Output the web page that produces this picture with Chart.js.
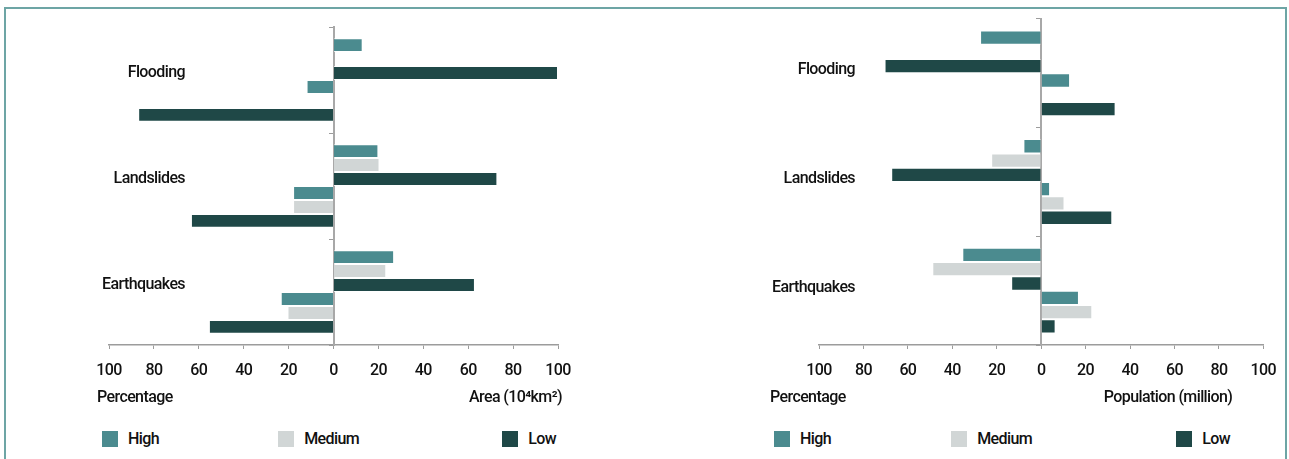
<!DOCTYPE html>
<html lang="en">
<head>
  <meta charset="UTF-8">
  <title>Hazard exposure: area and population</title>
  <script src="https://cdn.jsdelivr.net/npm/chart.js"></script>
  <style>
    body {
      margin: 0;
      width: 1289px;
      height: 459px;
      overflow: hidden;
      background: #fff;
      font-family: Roboto, 'DejaVu Sans Condensed', sans-serif;
      color: #111;
    }
    .frame {
      position: absolute;
      left: 4px;
      top: 7px;
      width: 1279px;
      height: 480px;
      border: 2px solid #6da5a5;
      border-bottom: none;
    }
    .wrap {
      position: absolute;
      top: 0;
      height: 420px;
    }
    .legend {
      position: absolute;
      top: 429px;
      display: flex;
      justify-content: space-between;
      font-size: 16px;
      font-weight: 500;
      letter-spacing: -0.6px;
    }
    .legend span.item {
      display: flex;
      align-items: center;
    }
    .legend span.item:nth-child(2) {
      margin-right: 24px;
    }
    .legend span.box {
      display: inline-block;
      width: 16px;
      height: 16px;
      margin-right: 10px;
    }
  </style>
</head>
<body>
  <div class="frame"></div>
  <div class="wrap" style="left:0;width:640px"><canvas id="areaChart"></canvas></div>
  <div class="wrap" style="left:645px;width:644px"><canvas id="popChart"></canvas></div>
  <div class="legend" id="legendArea" style="left:102px;width:454px"></div>
  <div class="legend" id="legendPop" style="left:774px;width:456px"></div>

  <script>
    const categories = ['Flooding', 'Landslides', 'Earthquakes'];
    const levels = ['High', 'Medium', 'Low'];
    const colors = ['#4b8b8f', '#d1d6d6', '#1f4847'];
    const xTicks = [-100, -80, -60, -40, -20, 0, 20, 40, 60, 80, 100];

    // left chart: area (10^4 km2) to the right, percentage to the left
    const areaHigh = [13, 20, 27];
    const areaMedium = [null, 20.5, 23.5];
    const areaLow = [100, 73, 63];
    const areaPctHigh = [12, 18, 23.5];
    const areaPctMedium = [null, 18, 20.5];
    const areaPctLow = [87, 63.5, 55.5];

    // right chart: percentage to the left, population (million) to the right
    const popPctHigh = [27.5, 8, 35.5];
    const popPctMedium = [null, 22.5, 49];
    const popPctLow = [70.5, 67.5, 13.5];
    const popHigh = [13, 4, 17];
    const popMedium = [null, 10.5, 23];
    const popLow = [33.5, 32, 6.5];

    const neg = arr => arr.map(v => v == null ? null : -v);
    const font = "Roboto, 'DejaVu Sans Condensed', sans-serif";
    const axisGrey = '#9c9c9c';

    function makeSets(groups) {
      // groups: list of [values, levelIndex]
      return groups.map(([vals, lv]) => ({
        label: levels[lv],
        data: vals,
        backgroundColor: colors[lv],
        borderColor: 'rgba(255,255,255,0.75)',
        borderWidth: 1,
        barPercentage: 1,
        categoryPercentage: 0.79
      }));
    }

    const textPlugin = {
      id: 'sideText',
      beforeDraw(chart) {
        chart.ctx.letterSpacing = '-0.6px';
      },
      afterDraw(chart, args, opts) {
        const ctx = chart.ctx;
        const area = chart.chartArea;
        const y = chart.scales.y;
        ctx.save();
        ctx.letterSpacing = '-0.6px';
        ctx.fillStyle = '#111';
        ctx.font = '500 16px ' + font;
        ctx.textBaseline = 'middle';
        ctx.textAlign = 'right';
        categories.forEach((c, i) => {
          ctx.fillText(c, area.left + opts.labelX, y.getPixelForValue(i) + opts.labelDy);
        });
        ctx.textAlign = 'left';
        ctx.fillText('Percentage', area.left + opts.leftTitleX, area.bottom + 53);
        ctx.textAlign = 'right';
        ctx.fillText(opts.rightTitle, area.right + opts.rightTitleX, area.bottom + 53);
        ctx.restore();
      }
    };

    function makeChart(id, datasets, pad, textOpts) {
      return new Chart(document.getElementById(id), {
        type: 'bar',
        data: { labels: categories, datasets: datasets },
        plugins: [textPlugin],
        options: {
          indexAxis: 'y',
          responsive: true,
          maintainAspectRatio: false,
          animation: false,
          layout: { padding: pad },
          plugins: {
            legend: { display: false },
            tooltip: { enabled: false },
            sideText: textOpts
          },
          scales: {
            x: {
              min: -100,
              max: 100,
              afterBuildTicks: s => { s.ticks = xTicks.map(v => ({ value: v })); },
              afterFit: s => { s.height = 75; },
              grid: {
                drawOnChartArea: false,
                tickLength: 4,
                color: axisGrey
              },
              border: { color: axisGrey, width: 1.5 },
              ticks: {
                padding: 12,
                color: '#111',
                font: { family: font, size: 16, weight: '500' },
                callback: v => Math.abs(v)
              }
            },
            y: {
              position: { x: 0 },
              grid: {
                offset: true,
                drawOnChartArea: false,
                tickLength: 4,
                color: axisGrey
              },
              border: { color: '#a8a8a8', width: 2 },
              ticks: { display: false }
            }
          }
        }
      });
    }

    makeChart('areaChart', makeSets([
      [areaHigh, 0], [areaMedium, 1], [areaLow, 2],
      [neg(areaPctHigh), 0], [neg(areaPctMedium), 1], [neg(areaPctLow), 2]
    ]), { left: 109, right: 82, top: 27, bottom: 0 },
      { labelX: 76, labelDy: -7, leftTitleX: -12, rightTitleX: 4, rightTitle: 'Area (10\u2074km\u00b2)' });

    makeChart('popChart', makeSets([
      [neg(popPctHigh), 0], [neg(popPctMedium), 1], [neg(popPctLow), 2],
      [popHigh, 0], [popMedium, 1], [popLow, 2]
    ]), { left: 174, right: 21, top: 19, bottom: 0 },
      { labelX: 36, labelDy: -3, leftTitleX: -49, rightTitleX: -31, rightTitle: 'Population (million)' });

    function buildLegend(id) {
      const el = document.getElementById(id);
      levels.forEach((name, i) => {
        const item = document.createElement('span');
        item.className = 'item';
        const box = document.createElement('span');
        box.className = 'box';
        box.style.background = colors[i];
        item.appendChild(box);
        item.appendChild(document.createTextNode(name));
        el.appendChild(item);
      });
    }
    buildLegend('legendArea');
    buildLegend('legendPop');
  </script>
</body>
</html>
